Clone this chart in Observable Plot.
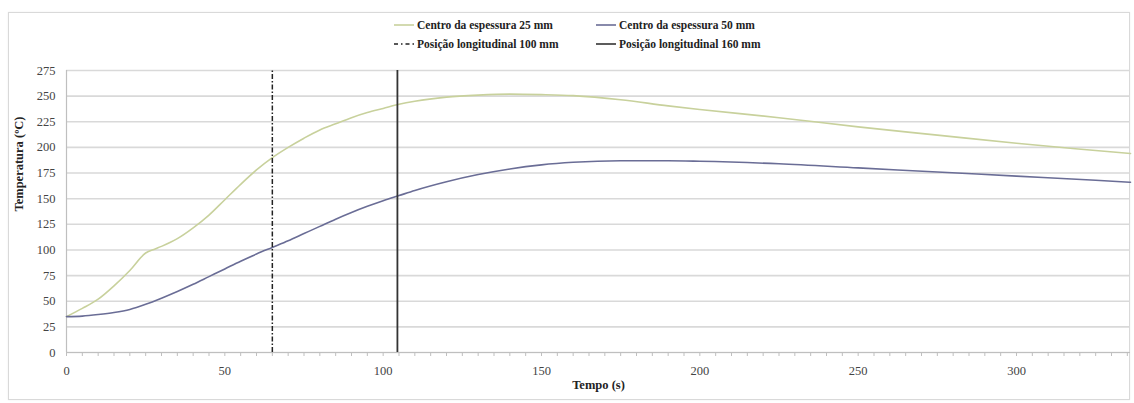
<!DOCTYPE html>
<html>
<head>
<meta charset="utf-8">
<script src="https://cdn.jsdelivr.net/npm/d3@7"></script>
<script src="https://cdn.jsdelivr.net/npm/@observablehq/plot@0.6"></script>
<style>
  html, body { margin: 0; padding: 0; background: #fff; }
  #wrap { position: relative; width: 1134px; height: 403px; overflow: hidden; font-family: "Liberation Serif", "Times New Roman", "DejaVu Serif", serif; }
  #frame { position: absolute; left: 8px; top: 12px; width: 1122px; height: 388px; border: 1px solid #d9d9d9; box-sizing: border-box; box-shadow: 0 0 2px #eee; }
  #legend { position: absolute; left: 0; top: 0; width: 1134px; height: 60px; font-weight: bold; font-size: 11.5px; color: #222; font-family: "Liberation Serif", "Times New Roman", serif; }
  .item { position: absolute; display: flex; align-items: center; white-space: nowrap; }
  .item svg { margin-right: 3px; }
  #chart { position: absolute; left: 0; top: 0; }
  #chart svg, #chart svg text { font-family: "Liberation Serif", "Times New Roman", serif !important; }
</style>
</head>
<body>
<div id="wrap">
  <div id="frame"></div>
  <div id="chart"></div>
  <div id="legend"></div>
</div>
<script>
// ---- data ----
const seriesNames = ["Centro da espessura 25 mm", "Centro da espessura 50 mm"];
const lineNames = ["Posição longitudinal 100 mm", "Posição longitudinal 160 mm"];

const time25 = [0, 5, 10, 15, 20, 25, 28, 30, 35, 40, 45, 50, 55, 60, 65, 70, 75, 80, 85, 90, 95, 100, 105, 110, 120, 130, 140, 150, 160, 175, 190, 200, 225, 250, 275, 300, 325, 336];
const temp25 = [35, 43, 52, 65, 80, 97, 101, 103.5, 111, 121.5, 134, 149, 164, 178, 190, 200, 209, 217, 223, 229, 234, 238, 242, 245, 249, 251, 252, 251.5, 250.5, 246.5, 240.5, 237, 229, 220, 212, 204, 197, 194];

const time50 = [0, 5, 10, 15, 20, 25, 30, 35, 40, 45, 50, 55, 60, 65, 70, 75, 80, 85, 90, 95, 100, 105, 110, 120, 130, 140, 150, 160, 175, 190, 200, 225, 250, 275, 300, 325, 336];
const temp50 = [35, 35.5, 37, 39, 42, 47, 53, 59.5, 66.5, 74, 81.5, 89, 96, 102.5, 109, 116, 123, 130, 136.5, 142.5, 148, 153, 158, 166.5, 173.5, 179, 183, 185.5, 187, 187, 186.5, 184, 180, 176, 172, 168, 166];

const linePositions = [65, 104.5]; // time (s) of the vertical markers

const xTicks = [0, 50, 100, 150, 200, 250, 300];
const yTicks = [0, 25, 50, 75, 100, 125, 150, 175, 200, 225, 250, 275];

const colors = ["#c8d19c", "#6a6d96"];
const lineColor = "#333333";

// ---- tables built from the arrays ----
const data25 = time25.map((t, i) => ({t, v: temp25[i], s: seriesNames[0]}));
const data50 = time50.map((t, i) => ({t, v: temp50[i], s: seriesNames[1]}));

const chart = Plot.plot({
  width: 1134,
  height: 403,
  marginLeft: 66,
  marginRight: 4,
  marginTop: 70,
  marginBottom: 51,
  style: {fontFamily: "Liberation Serif, Times New Roman, serif", fontSize: "12px", color: "#444", background: "transparent"},
  x: {domain: [0, 336]},
  y: {domain: [0, 275]},
  marks: [
    Plot.gridY(yTicks, {stroke: "#d9d9d9", strokeOpacity: 1, strokeWidth: 1.6}),
    Plot.ruleY([0], {stroke: "#bfbfbf", strokeWidth: 1.2}),
    Plot.ruleX([0], {stroke: "#bfbfbf", strokeWidth: 1.2}),
    Plot.axisX(d3.range(0, 337, 5), {tickSize: 4, text: null, stroke: "#bfbfbf", label: null}),
    Plot.axisX(xTicks, {tickSize: 0, tickPadding: 14, fontSize: 12.5, label: null}),
    Plot.axisY(yTicks, {tickSize: 0, tickPadding: 11, fontSize: 12.5, label: null}),
    Plot.line(data25, {x: "t", y: "v", stroke: colors[0], strokeWidth: 1.6, curve: "monotone-x"}),
    Plot.line(data50, {x: "t", y: "v", stroke: colors[1], strokeWidth: 1.6, curve: "monotone-x"}),
    Plot.ruleX([linePositions[0]], {y1: 0, y2: 275, stroke: "#222", strokeWidth: 1.5, strokeDasharray: "5,2,1.5,2"}),
    Plot.ruleX([linePositions[1]], {y1: 0, y2: 275, stroke: lineColor, strokeWidth: 1.8}),
    Plot.text(["Tempo (s)"], {frameAnchor: "bottom", dy: 36, fontWeight: "bold", fontSize: 12.5, fill: "#222"}),
    Plot.text(["Temperatura (ºC)"], {frameAnchor: "left", dx: -48, dy: 0, rotate: -90, fontWeight: "bold", fontSize: 12.5, fill: "#222"})
  ]
});
document.getElementById("chart").appendChild(chart);

// ---- legend ----
const legend = document.getElementById("legend");
const items = [
  {name: seriesNames[0], color: colors[0], dash: null, x: 394, y: 25, w: 20},
  {name: seriesNames[1], color: colors[1], dash: null, x: 596, y: 25, w: 20},
  {name: lineNames[0], color: "#222", dash: "4,3,1.5,3", x: 394, y: 44, w: 20},
  {name: lineNames[1], color: lineColor, dash: null, x: 596, y: 44, w: 20}
];
items.forEach(it => {
  const d = document.createElement("div");
  d.className = "item";
  d.style.left = it.x + "px";
  d.style.top = (it.y - 7) + "px";
  d.innerHTML = `<svg width="${it.w}" height="14"><line x1="0" x2="${it.w}" y1="7" y2="7" stroke="${it.color}" stroke-width="1.6" ${it.dash ? `stroke-dasharray="${it.dash}"` : ""}/></svg><span>${it.name}</span>`;
  legend.appendChild(d);
});
</script>
</body>
</html>
